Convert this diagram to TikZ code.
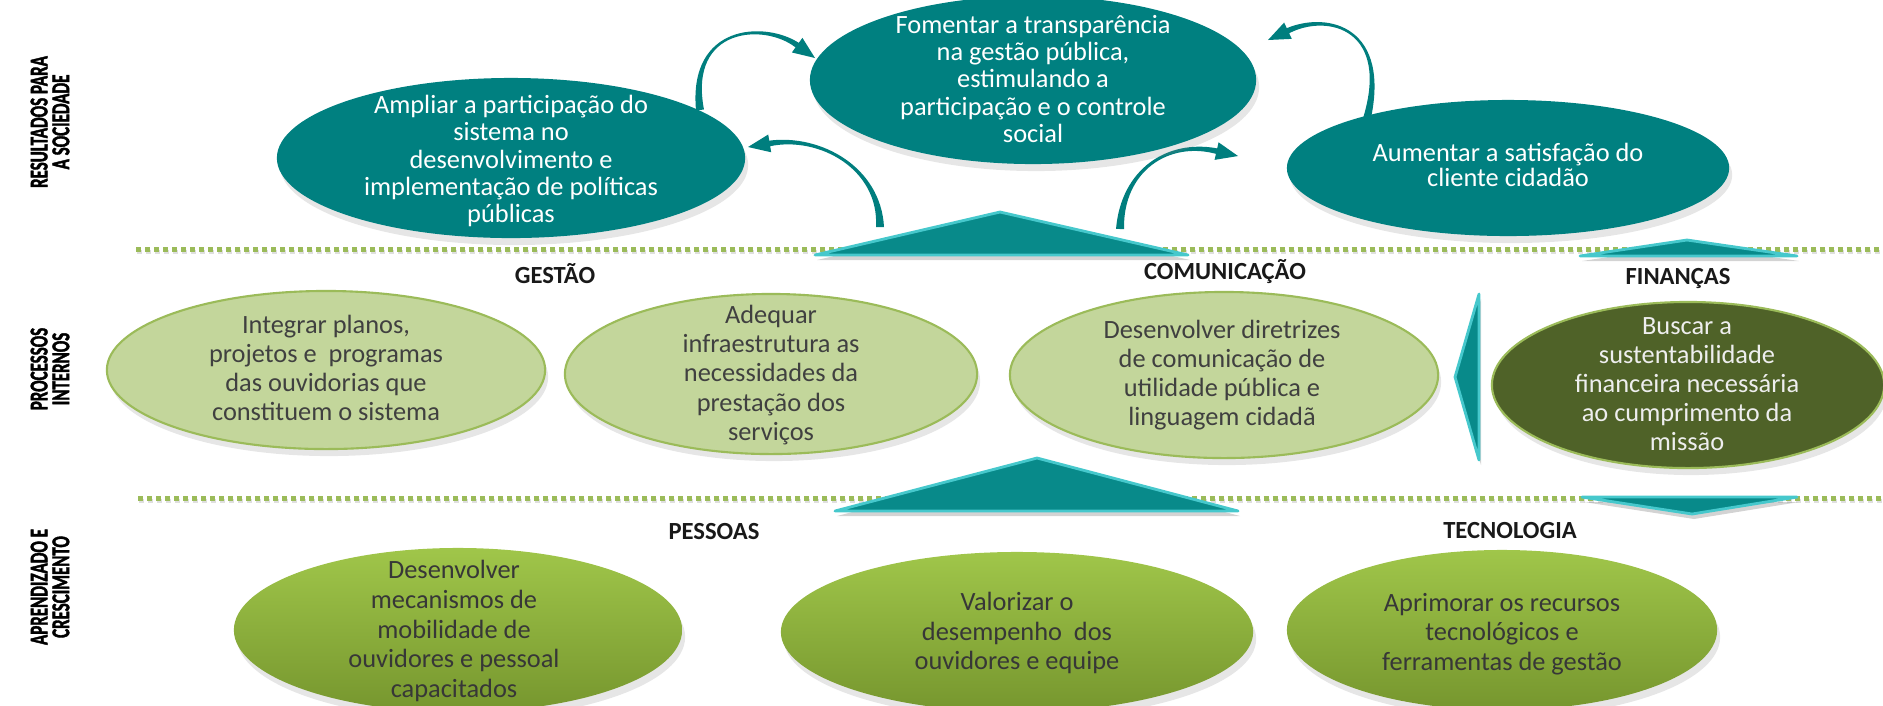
\documentclass[tikz,border=0pt]{standalone}
\usepackage{fontspec}
\setmainfont{Carlito}
\newfontfamily\condfont[FakeStretch=0.66,FakeBold=1.5]{Carlito}
\usetikzlibrary{shapes.geometric,shadows,calc}
\definecolor{tealE}{RGB}{0,128,128}
\definecolor{lightG}{RGB}{195,214,155}
\definecolor{greenEdge}{RGB}{155,187,89}
\definecolor{oliveD}{RGB}{79,98,40}
\definecolor{ballTop}{RGB}{160,198,74}
\definecolor{ballBot}{RGB}{118,150,46}
\definecolor{triFill}{RGB}{8,138,138}
\definecolor{triEdge}{RGB}{70,200,204}
\definecolor{dotG}{RGB}{155,187,89}
\definecolor{txtGray}{RGB}{64,64,64}
\definecolor{txtDark}{RGB}{55,55,55}
\definecolor{txtLight}{RGB}{238,238,238}
\definecolor{hdr}{RGB}{25,25,25}
\definecolor{arrFill}{RGB}{0,126,126}
\newcommand{\bentarrow}[4]{%
  \coordinate (hb) at ($(#4)!2.2mm!(#3)$);
  \fill[arrowbody] ($(#1)!0.4mm!90:(#2)$)
    .. controls ($(#2)!0.15mm!90:(#3)$) and ($(#3)!0.12mm!-90:(#2)$) .. ($(hb)!0.28mm!-90:(#3)$)
    -- ($(hb)!0.9mm!-90:(#3)$) -- (#4) -- ($(hb)!0.9mm!90:(#3)$)
    -- ($(hb)!0.28mm!90:(#3)$)
    .. controls ($(#3)!0.12mm!90:(#2)$) and ($(#2)!0.15mm!-90:(#3)$) .. ($(#1)!0.4mm!-90:(#2)$) -- cycle;}
\begin{document}
\begin{tikzpicture}[x=0.01cm,y=-0.01cm,
  ell/.style={ellipse, inner sep=0pt},
  shad/.style={drop shadow={shadow xshift=0.3mm, shadow yshift=-0.7mm, opacity=0.2}},
  tealell/.style={ell, fill=tealE, shad},
  procell/.style={ell, fill=lightG, draw=greenEdge, line width=0.6pt, shad},
  finell/.style={ell, fill=oliveD, draw=greenEdge, line width=0.6pt, shad},
  learnell/.style={ell, top color=ballTop, bottom color=ballBot, shad},
  txt/.style={align=center, font=\fontsize{7.5}{7.7}\selectfont, inner sep=0pt},
  wtxt/.style={txt, text=white},
  gtxt/.style={txt, text=txtGray, font=\fontsize{7.5}{8.3}\selectfont},
  ftxt/.style={txt, text=txtLight, font=\fontsize{7.5}{8.3}\selectfont},
  btxt/.style={txt, text=txtDark, font=\fontsize{7.5}{8.4}\selectfont},
  hd/.style={font=\bfseries\fontsize{7}{8}\selectfont, text=hdr, inner sep=0pt},
  lab/.style={rotate=90, align=center, inner sep=0pt, font=\condfont\bfseries\fontsize{7.3}{6.2}\selectfont},
  dotline/.style={dotG, line width=0.5mm, dash pattern=on 0.5mm off 0.4mm},
  dotshadow/.style={black!25, line width=0.4mm, dash pattern=on 0.5mm off 0.4mm, opacity=0.5},
  tri/.style={fill=triFill, draw=triEdge, line width=0.8pt, line join=round,
    drop shadow={shadow xshift=0.2mm, shadow yshift=-0.5mm, opacity=0.35}},
  arrowbody/.style={fill=arrFill}
]
\useasboundingbox (0,0) rectangle (1883,705);

% separator lines
\coordinate (d1s) at (136,249); \coordinate (d1e) at (1883,249);
\coordinate (d2s) at (138,498); \coordinate (d2e) at (1883,498);
\draw[dotshadow] ($(d1s)+(1,3)$) -- ($(d1e)+(1,3)$);
\draw[dotshadow] ($(d2s)+(1,3)$) -- ($(d2e)+(1,3)$);
\draw[dotline] (d1s) -- (d1e);
\draw[dotline] (d2s) -- (d2e);

% left labels
\node[lab] (l1) at (50,122) {RESULTADOS PARA\\A SOCIEDADE};
\node[lab] (l2) at (50,369) {PROCESSOS\\INTERNOS};
\node[lab] (l3) at (50,587) {APRENDIZADO E\\CRESCIMENTO};

% curved arrows (drawn first so their tails tuck under the ellipses)
\coordinate (a1t) at (700,110); \coordinate (a1c) at (688,25); \coordinate (a1d) at (765,22); \coordinate (a1h) at (815,58);
\bentarrow{a1t}{a1c}{a1d}{a1h}
\coordinate (a2t) at (880,227); \coordinate (a2c) at (880,168); \coordinate (a2d) at (820,135); \coordinate (a2h) at (748,147);
\bentarrow{a2t}{a2c}{a2d}{a2h}
\coordinate (a3t) at (1120,229); \coordinate (a3c) at (1122,170); \coordinate (a3d) at (1168,140); \coordinate (a3h) at (1238,156);
\bentarrow{a3t}{a3c}{a3d}{a3h}
\coordinate (a4t) at (1366,122); \coordinate (a4c) at (1392,28); \coordinate (a4d) at (1328,12); \coordinate (a4h) at (1268,40);
\bentarrow{a4t}{a4c}{a4d}{a4h}

% top row
\node[tealell, minimum width=4.68cm, minimum height=1.60cm] (e1) at (511,158) {};
\node[tealell, minimum width=4.46cm, minimum height=1.68cm] (e2) at (1033,80) {};
\node[tealell, minimum width=4.42cm, minimum height=1.36cm] (e3) at (1508,168) {};
\node[wtxt] (e1t) at (511,161) {Ampliar a participação do\\sistema no\\desenvolvimento e\\implementação de políticas\\públicas};
\node[wtxt] (e2t) at (1033,79) {Fomentar a transparência\\na gestão pública,\\estimulando a\\participação e o controle\\social};
\node[wtxt, font=\fontsize{7.5}{7.2}\selectfont] (e3t) at (1508,165) {Aumentar a satisfação do\\cliente cidadão};

% triangles
\filldraw[tri] (815,255) -- (1000,212) -- (1188,255) -- cycle;
\filldraw[tri] (1580,256) -- (1687,240) -- (1797,256) -- cycle;
\filldraw[tri] (835,511) -- (1037,458) -- (1238,511) -- cycle;
\filldraw[tri] (1479,294) -- (1455,377) -- (1479,460) -- cycle;
\filldraw[tri] (1582,497) -- (1692,514) -- (1797,497) -- cycle;

% headers
\node[hd] (hg) at (555,274) {GESTÃO};
\node[hd] (hc) at (1225,272) {COMUNICAÇÃO};
\node[hd] (hf) at (1678,278) {FINANÇAS};
\node[hd] (hp) at (714,531) {PESSOAS};
\node[hd] (ht) at (1510,530) {TECNOLOGIA};

% middle row
\node[procell, minimum width=4.38cm, minimum height=1.58cm] (m1) at (326,370) {};
\node[procell, minimum width=4.12cm, minimum height=1.60cm] (m2) at (771,374) {};
\node[procell, minimum width=4.28cm, minimum height=1.66cm] (m3) at (1224,375) {};
\node[finell, minimum width=3.92cm, minimum height=1.66cm] (m4) at (1688,385) {};
\node[gtxt] (m1t) at (326,368) {Integrar planos,\\projetos e\ \ programas\\das ouvidorias que\\constituem o sistema};
\node[gtxt] (m2t) at (771,375) {Adequar\\infraestrutura as\\necessidades da\\prestação dos\\serviços};
\node[gtxt] (m3t) at (1222,375) {Desenvolver diretrizes\\de comunicação de\\utilidade pública e\\linguagem cidadã};
\node[ftxt] (m4t) at (1687,384) {Buscar a\\sustentabilidade\\financeira necessária\\ao cumprimento da\\missão};

% bottom row
\node[learnell, minimum width=4.48cm, minimum height=1.64cm] (b1) at (458,630) {};
\node[learnell, minimum width=4.72cm, minimum height=1.60cm] (b2) at (1017,632) {};
\node[learnell, minimum width=4.30cm, minimum height=1.60cm] (b3) at (1502,630) {};
\node[btxt] (b1t) at (454,631) {Desenvolver\\mecanismos de\\mobilidade de\\ouvidores e pessoal\\capacitados};
\node[btxt] (b2t) at (1017,633) {Valorizar o\\desempenho\ \ dos\\ouvidores e equipe};
\node[btxt] (b3t) at (1502,634) {Aprimorar os recursos\\tecnológicos e\\ferramentas de gestão};
\end{tikzpicture}
\end{document}
